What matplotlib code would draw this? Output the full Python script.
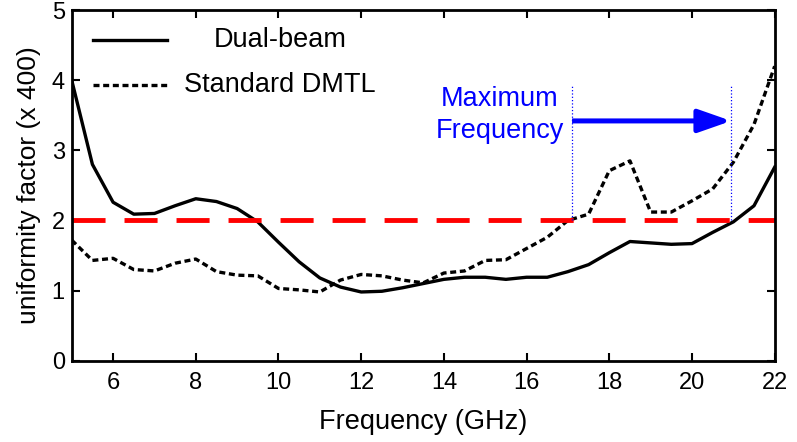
import numpy as np
import matplotlib
matplotlib.use('Agg')
import matplotlib.pyplot as plt

plt.rcParams['font.family'] = ['Liberation Sans', 'DejaVu Sans']

# ── data ──────────────────────────────────────────────────────────────
freq = np.arange(5.0, 22.01, 0.5)

dual_beam = [4.00, 2.80, 2.26, 2.09, 2.10, 2.21, 2.31, 2.27, 2.17, 1.98,
             1.69, 1.41, 1.18, 1.05, 0.98, 0.99, 1.04, 1.10, 1.16, 1.19,
             1.19, 1.16, 1.19, 1.19, 1.27, 1.37, 1.54, 1.70, 1.68, 1.66,
             1.67, 1.83, 1.98, 2.21, 2.76]

standard_dmtl = [1.72, 1.43, 1.46, 1.30, 1.28, 1.39, 1.45, 1.27, 1.22, 1.21,
                 1.03, 1.01, 0.98, 1.15, 1.23, 1.21, 1.15, 1.11, 1.25, 1.28,
                 1.43, 1.44, 1.60, 1.76, 2.00, 2.09, 2.71, 2.85, 2.12, 2.12,
                 2.28, 2.45, 2.83, 3.37, 4.20]

threshold = 2.0
f_max_std = 17.1
f_max_dual = 20.95

fig = plt.figure(figsize=(7.97, 4.42), dpi=100)
ax = fig.add_axes([0.090, 0.184, 0.882, 0.793])

DOTTED = (0, (1.8, 1.1))

ax.plot(freq, dual_beam, color='black', lw=2.4)
ax.plot(freq, standard_dmtl, color='black', lw=2.4, linestyle=DOTTED)
ax.axhline(threshold, color='red', lw=3.5, linestyle=(0, (6.8, 3.9)),
           dash_capstyle='butt')

# ── maximum-frequency markers ─────────────────────────────────────────
for f in (f_max_std, f_max_dual):
    ax.plot([f, f], [threshold, 3.93], color='blue', lw=0.9, linestyle=':')
ax.annotate('', xy=(f_max_dual, 3.42), xytext=(f_max_std, 3.42),
            arrowprops=dict(arrowstyle='-|>,head_length=2.0,head_width=0.7',
                            color='blue', lw=3.6, shrinkA=0, shrinkB=0,
                            capstyle='butt'))
ax.text(15.35, 3.50, 'Maximum\nFrequency', color='blue', fontsize=19.5,
        ha='center', va='center', linespacing=1.3)

# ── legend, drawn by hand so the labels are centred as in the original ─
ax.plot([0.030, 0.135], [0.914, 0.914], transform=ax.transAxes,
        color='black', lw=2.4)
ax.plot([0.030, 0.135], [0.786, 0.786], transform=ax.transAxes,
        color='black', lw=2.4, linestyle=DOTTED)
ax.text(0.296, 0.914, 'Dual-beam', transform=ax.transAxes, fontsize=19.5,
        ha='center', va='center')
ax.text(0.296, 0.786, 'Standard DMTL', transform=ax.transAxes, fontsize=19.5,
        ha='center', va='center')

ax.set_xlim(5, 22)
ax.set_ylim(0, 5)
ax.set_xticks(np.arange(6, 23, 2))
ax.set_yticks(np.arange(0, 6, 1))
ax.tick_params(direction='in', length=6, width=1.5, labelsize=17,
               top=True, right=True)
ax.tick_params(axis='x', pad=8)
ax.tick_params(axis='y', pad=5)
for s in ax.spines.values():
    s.set_linewidth(2.0)

ax.set_xlabel('Frequency (GHz)', fontsize=19.5, labelpad=11)
ax.set_ylabel('uniformity factor (x 400)', fontsize=19, labelpad=8)

fig.savefig('out.png', dpi=100)
